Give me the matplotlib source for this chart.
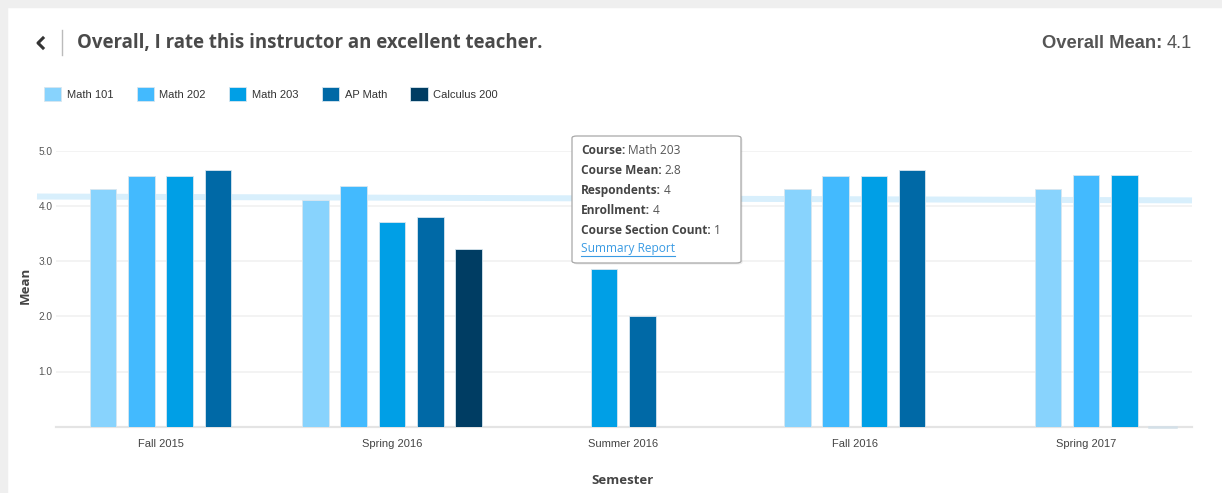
import numpy as np
import matplotlib
matplotlib.use('Agg')
import matplotlib.pyplot as plt
from matplotlib.patches import Rectangle, FancyBboxPatch
from matplotlib.lines import Line2D

# chart data
semesters = ['Fall 2015', 'Spring 2016', 'Summer 2016', 'Fall 2016', 'Spring 2017']
courses = ['Math 101', 'Math 202', 'Math 203', 'AP Math', 'Calculus 200']
math_101 = [4.30, 4.10, np.nan, 4.30, 4.31]
math_202 = [4.55, 4.36, np.nan, 4.55, 4.56]
math_203 = [4.55, 3.71, 2.85, 4.55, 4.56]
ap_math = [4.65, 3.80, 2.00, 4.65, 0.0]
calculus_200 = [np.nan, 3.22, np.nan, np.nan, np.nan]
course_colors = ['#88d3fd', '#43bafe', '#009fe6', '#0069a6', '#003d63']
overall_mean = 4.1
mean_trend = [4.17, 4.10]   # overall mean band, left end / right end

tooltip_rows = [('Course:', 'Math 203'), ('Course Mean:', '2.8'),
                ('Respondents:', '4'), ('Enrollment:', '4'),
                ('Course Section Count:', '1')]

W, H = 1222, 493
fig = plt.figure(figsize=(W / 100, H / 100), dpi=100)
fig.patch.set_facecolor('white')

def fx(x):
    return x / W

def fy(y):
    return 1 - y / H

# gray page border (top and left)
fig.patches.append(Rectangle((0, fy(7)), 1, 7 / H, transform=fig.transFigure,
                             color='#efefef', zorder=0))
fig.patches.append(Rectangle((0, 0), 7 / W, 1, transform=fig.transFigure,
                             color='#efefef', zorder=0))

# plot area
left, right, top, base = 56, 1192, 150.7, 426.7
ax = fig.add_axes([fx(left), fy(base), (right - left) / W, (base - top) / H])
ax.set_facecolor('none')

series = [math_101, math_202, math_203, ap_math, calculus_200]
slot = 0.1655
bar_w = 0.115
x_pos = {k: [] for k in range(len(courses))}
h_val = {k: [] for k in range(len(courses))}
for i in range(len(semesters)):
    present = [k for k in range(len(courses)) if not np.isnan(series[k][i])]
    n_pos = sum(1 for k in present if series[k][i] > 0)
    start = i - (n_pos - 1) / 2 * slot
    for j, k in enumerate(present):
        x_pos[k].append(start + j * slot)
        h_val[k].append(series[k][i])

handles = []
for k, name in enumerate(courses):
    b = ax.bar(x_pos[k], h_val[k], width=bar_w, color=course_colors[k],
               edgecolor='#d8e6ef', linewidth=0.6, label=name, zorder=3)
    handles.append(b)
    # zero values show as a faint line on the baseline
    for xp, hv in zip(x_pos[k], h_val[k]):
        if hv == 0:
            ax.plot([xp - bar_w / 2, xp + bar_w / 2], [0, 0], color='#d3e0e8',
                    lw=1.8, zorder=4, clip_on=False)

# overall mean band
x_lo = (37 - 160.5) / 231.4
x_hi = 4.4576
ax.plot([x_lo, x_hi], mean_trend, color='#d8effc', lw=4.3,
        solid_capstyle='butt', zorder=2, clip_on=False)

ax.set_xlim(-0.4516, x_hi)
ax.set_ylim(0, 5)
ax.set_xticks(range(len(semesters)))
ax.set_xticklabels(semesters, fontsize=8, color='#444444', family='Liberation Sans')
ax.set_yticks([1, 2, 3, 4, 5])
ax.set_yticklabels(['1.0', '2.0', '3.0', '4.0', '5.0'], fontsize=7.3,
                   color='#555555', family='Liberation Sans')
ax.tick_params(axis='both', length=0)
ax.tick_params(axis='x', pad=9)
ax.tick_params(axis='y', pad=2.5)
ax.yaxis.grid(True, color='#f1f1f1', lw=1.2, zorder=0)
ax.set_axisbelow(True)
for s in ['left', 'right', 'top']:
    ax.spines[s].set_visible(False)
ax.spines['bottom'].set_color('#e4e4e4')
ax.spines['bottom'].set_linewidth(1.6)

fig.text(fx(623), fy(480), 'Semester', ha='center', va='center', fontsize=9.5,
         fontweight='bold', color='#444444', family='Open Sans')
fig.text(fx(25), fy(285), 'Mean', ha='center', va='center', fontsize=9.5,
         fontweight='bold', color='#444444', family='Open Sans', rotation=90)

# legend
fig.legend(handles=handles, labels=courses, loc='upper left',
           bbox_to_anchor=(fx(44), fy(87)), ncol=5, frameon=False,
           prop={'family': 'Liberation Sans', 'size': 8},
           handlelength=1.55, handleheight=1.55, handletextpad=0.5,
           columnspacing=2.1, borderpad=0, borderaxespad=0, labelcolor='#333333')

# header: back chevron, separator, title
fig.lines.append(Line2D([fx(43), fx(38), fx(43)], [fy(38), fy(43), fy(48)],
                        transform=fig.transFigure, color='#333333', lw=2.2))
fig.lines.append(Line2D([fx(62), fx(62)], [fy(30), fy(55)],
                        transform=fig.transFigure, color='#bbbbbb', lw=1))
fig.text(fx(77), fy(43), 'Overall, I rate this instructor an excellent teacher.',
         ha='left', va='center', fontsize=13.4, fontweight='bold',
         color='#4a4a4a', family='Open Sans')

renderer = fig.canvas.get_renderer()

val = fig.text(fx(1192), fy(43), f'{overall_mean:.1f}', ha='right', va='center',
               fontsize=13.2, color='#555555', family='Liberation Sans')
vw = val.get_window_extent(renderer).width
fig.text(fx(1192 - vw - 4), fy(43), 'Overall Mean:', ha='right', va='center',
         fontsize=13.2, fontweight='bold', color='#555555', family='Liberation Sans')

# tooltip
tip_x0, tip_y0, tip_x1, tip_y1 = 572, 136, 741, 263
fig.patches.append(FancyBboxPatch((fx(tip_x0 + 1.5), fy(tip_y1 + 1.5)),
                                  (tip_x1 - tip_x0) / W, (tip_y1 - tip_y0) / H,
                                  boxstyle='round,pad=0,rounding_size=0.004',
                                  transform=fig.transFigure, facecolor='#000000',
                                  alpha=0.08, edgecolor='none', zorder=10))
fig.patches.append(FancyBboxPatch((fx(tip_x0), fy(tip_y1)),
                                  (tip_x1 - tip_x0) / W, (tip_y1 - tip_y0) / H,
                                  boxstyle='round,pad=0,rounding_size=0.004',
                                  transform=fig.transFigure, facecolor='white',
                                  edgecolor='#a8a8a8', lw=0.9, zorder=11))
row_y = 150
for lab, v in tooltip_rows:
    t = fig.text(fx(581), fy(row_y), lab, ha='left', va='center', fontsize=8.6,
                 fontweight='bold', color='#444444', family='Open Sans', zorder=12)
    tw = t.get_window_extent(renderer).width
    fig.text(fx(581 + tw + 3), fy(row_y), v, ha='left', va='center', fontsize=8.6,
             color='#555555', family='Open Sans', zorder=12)
    row_y += 20
link = fig.text(fx(581), fy(249), 'Summary Report', ha='left', va='center',
                fontsize=8.6, color='#3a9be3', family='Open Sans', zorder=12)
lb = link.get_window_extent(renderer)
fig.lines.append(Line2D([fx(581), fx(581 + lb.width)], [fy(256), fy(256)],
                        transform=fig.transFigure, color='#3a9be3', lw=0.8, zorder=12))

fig.savefig('out.png', dpi=100)
